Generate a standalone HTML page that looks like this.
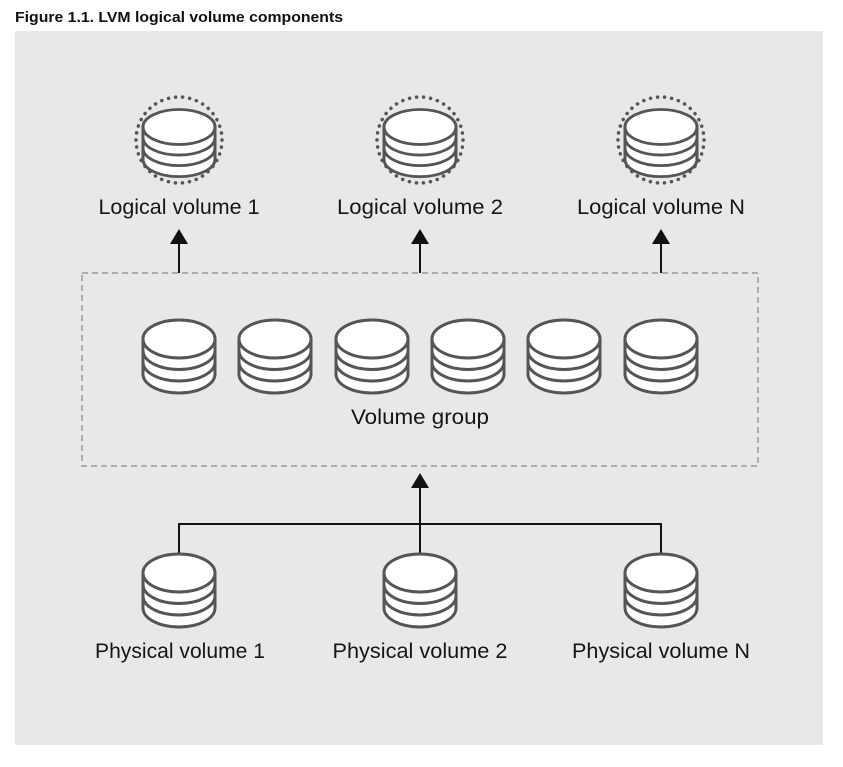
<!DOCTYPE html>
<html><head><meta charset="utf-8"><style>
html,body{margin:0;padding:0;background:#fff;width:843px;height:767px;overflow:hidden}
svg{display:block}
</style></head><body>
<svg width="843" height="767" viewBox="0 0 843 767" xmlns="http://www.w3.org/2000/svg">
<defs>
<g id="cyl" fill="#fff" stroke="#555" stroke-width="3">
<path d="M-36,0 L-36,35 A36,19 0 0 0 36,35 L36,0 Z"/>
<ellipse cx="0" cy="0" rx="36" ry="19"/>
<path d="M-36,11.5 A36,19 0 0 0 36,11.5" fill="none"/>
<path d="M-36,23 A36,19 0 0 0 36,23" fill="none"/>
</g>
<g id="arr"><polygon points="-9,15 9,15 0,0" fill="#111"/></g>
</defs>
<text x="15" y="22" font-family="Liberation Sans, sans-serif" font-weight="bold" font-size="15" fill="#111" textLength="328" lengthAdjust="spacingAndGlyphs">Figure 1.1. LVM logical volume components</text>
<rect x="15" y="31" width="808" height="714" fill="#e8e8e8"/>
<g>
<circle cx="179" cy="140" r="43" fill="none" stroke="#555" stroke-width="3.5" stroke-dasharray="0.1 7" stroke-linecap="round"/>
<circle cx="420" cy="140" r="43" fill="none" stroke="#555" stroke-width="3.5" stroke-dasharray="0.1 7" stroke-linecap="round"/>
<circle cx="661" cy="140" r="43" fill="none" stroke="#555" stroke-width="3.5" stroke-dasharray="0.1 7" stroke-linecap="round"/>
<g transform="translate(179,127) scale(1,0.92)"><use href="#cyl"/></g>
<g transform="translate(420,127) scale(1,0.92)"><use href="#cyl"/></g>
<g transform="translate(661,127) scale(1,0.92)"><use href="#cyl"/></g>
</g>
<g font-family="Liberation Sans, sans-serif" font-size="21" fill="#151515" text-anchor="middle" lengthAdjust="spacingAndGlyphs">
<text x="179" y="214" textLength="161" lengthAdjust="spacingAndGlyphs">Logical volume 1</text>
<text x="420" y="214" textLength="166" lengthAdjust="spacingAndGlyphs">Logical volume 2</text>
<text x="661" y="214" textLength="168" lengthAdjust="spacingAndGlyphs">Logical volume N</text>
<text x="420" y="424" textLength="138" lengthAdjust="spacingAndGlyphs">Volume group</text>
<text x="180" y="658" textLength="170" lengthAdjust="spacingAndGlyphs">Physical volume 1</text>
<text x="420" y="658" textLength="175" lengthAdjust="spacingAndGlyphs">Physical volume 2</text>
<text x="661" y="658" textLength="178" lengthAdjust="spacingAndGlyphs">Physical volume N</text>
</g>
<g stroke="#111" stroke-width="2">
<line x1="179" y1="244" x2="179" y2="273"/>
<line x1="420" y1="244" x2="420" y2="273"/>
<line x1="661" y1="244" x2="661" y2="273"/>
<line x1="420" y1="486" x2="420" y2="555"/>
<polyline points="179,555 179,524 661,524 661,555" fill="none"/>
</g>
<use href="#arr" transform="translate(179,229)"/>
<use href="#arr" transform="translate(420,229)"/>
<use href="#arr" transform="translate(661,229)"/>
<use href="#arr" transform="translate(420,473)"/>
<rect x="82" y="273" width="676" height="193" fill="none" stroke="#999" stroke-width="1.5" stroke-dasharray="6 4"/>
<use href="#cyl" transform="translate(179,339)"/>
<use href="#cyl" transform="translate(275,339)"/>
<use href="#cyl" transform="translate(372,339)"/>
<use href="#cyl" transform="translate(468,339)"/>
<use href="#cyl" transform="translate(564,339)"/>
<use href="#cyl" transform="translate(661,339)"/>
<use href="#cyl" transform="translate(179,573)"/>
<use href="#cyl" transform="translate(420,573)"/>
<use href="#cyl" transform="translate(661,573)"/>
</svg>
</body></html>
